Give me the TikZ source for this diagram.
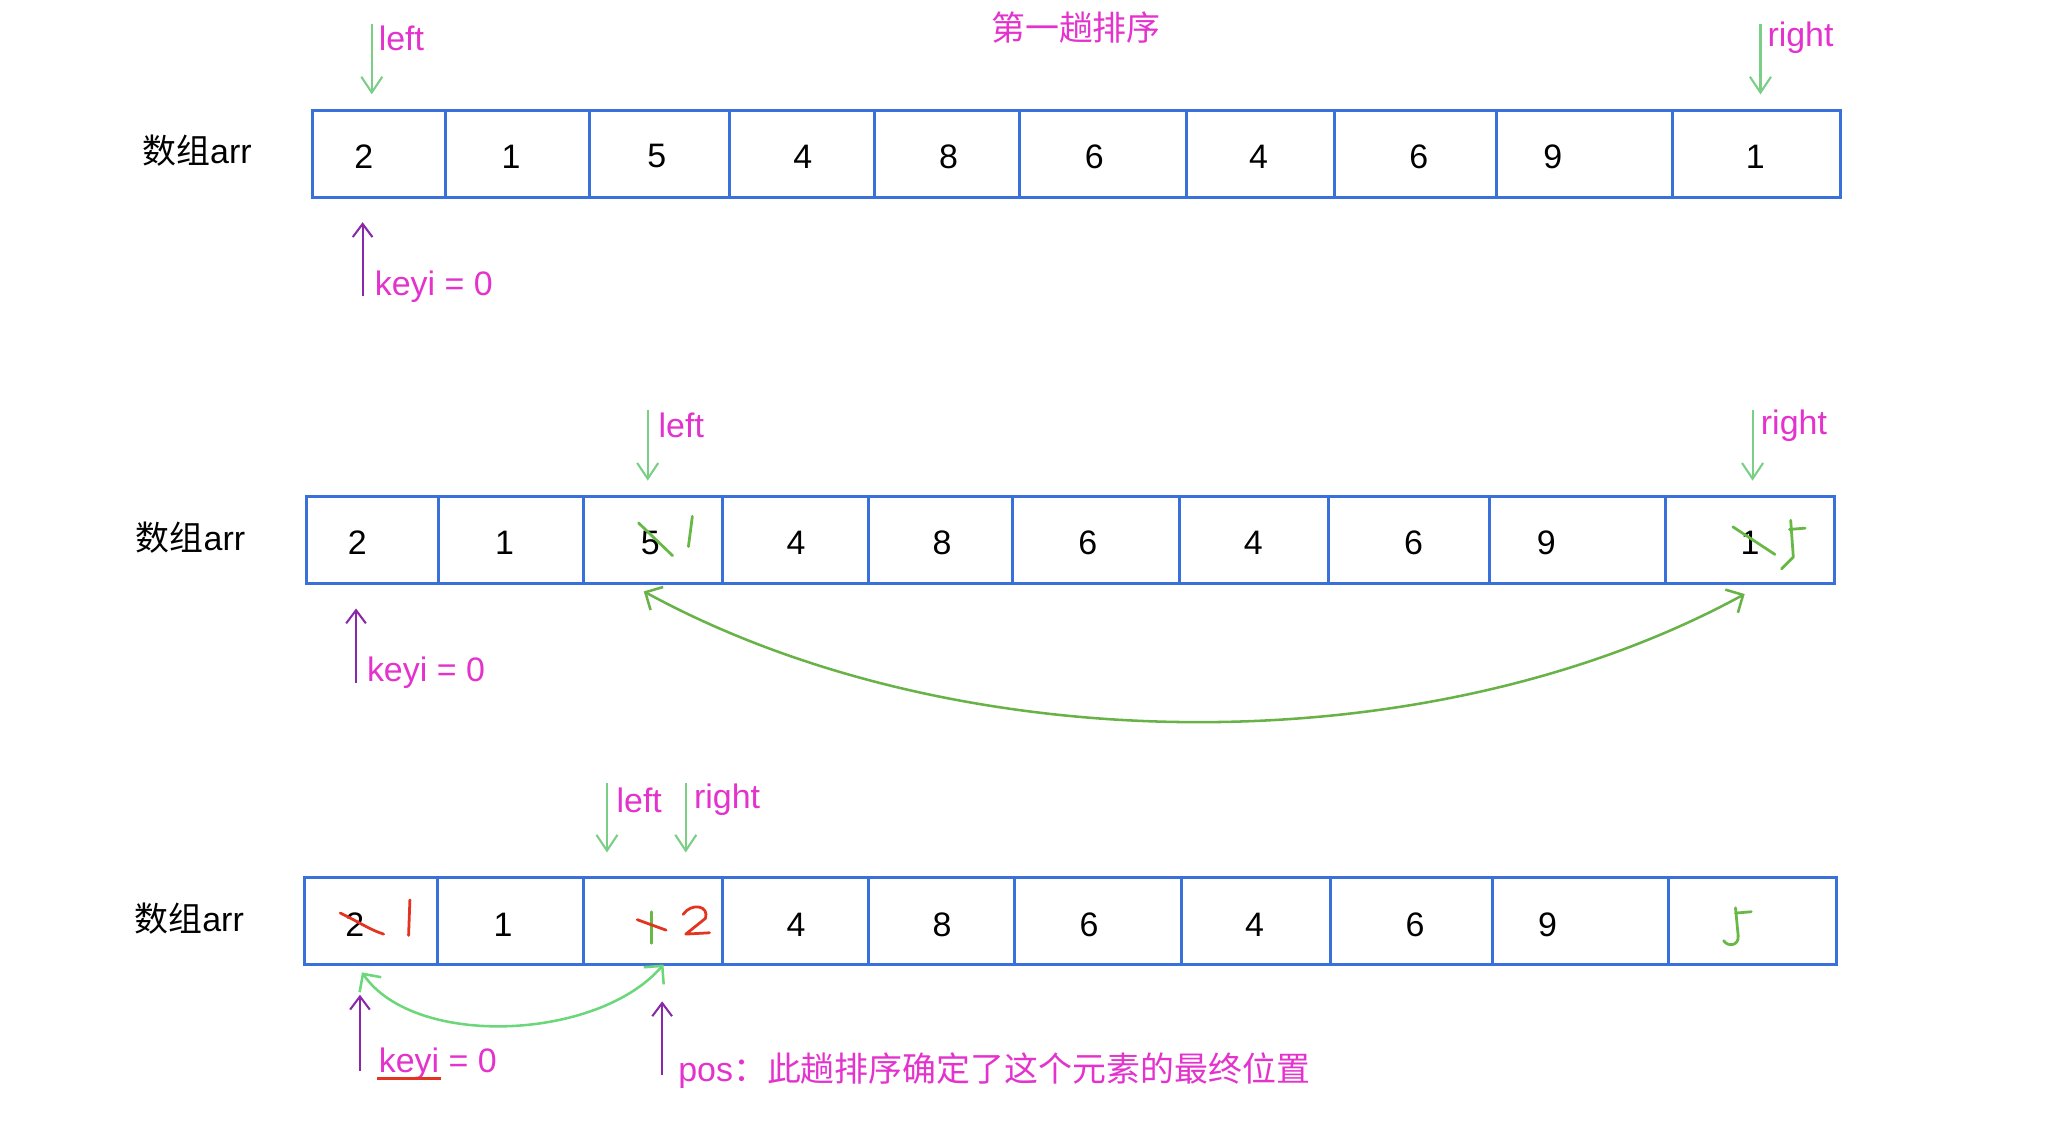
\documentclass[tikz,border=0pt]{standalone}
\usepackage{fontspec}
\setmainfont{Liberation Sans}
\newfontfamily\cjk{Noto Sans CJK SC}
\usepackage{tikz}
\usetikzlibrary{arrows.meta, positioning}
\definecolor{cellblue}{RGB}{58,112,218}
\definecolor{mag}{RGB}{228,50,205}
\definecolor{ptrgreen}{RGB}{122,206,134}
\definecolor{arcgreen}{RGB}{104,178,72}
\definecolor{arcgreenlt}{RGB}{108,214,122}
\definecolor{keypurple}{RGB}{138,40,170}
\definecolor{inkred}{RGB}{226,52,30}
\definecolor{inkgreen}{RGB}{104,184,70}

\begin{document}
\begin{tikzpicture}[x=0.2mm, y=-0.2mm,
        font=\fontsize{14.7}{17}\selectfont,
        cell/.style={draw=cellblue, line width=1.3pt, minimum height=13.2mm, inner sep=0pt},
        num/.style={inner sep=0pt},
        lbl/.style={text=mag, inner sep=0pt, anchor=west},
        arrname/.style={inner sep=0pt, anchor=west},
        gptr/.style={draw=ptrgreen, line width=0.9pt, -{Straight Barb[length=2.4mm, width=3.2mm]}, shorten >=2.2mm},
        kptr/.style={draw=keypurple, line width=0.9pt, -{Straight Barb[length=2mm, width=3mm]}, shorten >=3.6mm},
        swaparc/.style={line width=1.1pt, {Straight Barb[length=2mm, width=4mm]}-{Straight Barb[length=2mm, width=4mm]}},
        ink/.style={line width=1.2pt, line cap=round, line join=round}
    ]
        \useasboundingbox (0,0) rectangle (1568,854);

        \node[lbl, anchor=center] (title) at (819,21) {\cjk 第一趟排序};

        % row 1
        \node[arrname] (arr1) at (108,115) {{\cjk 数组}arr};
        \foreach \l/\r/\t/\v [count=\i] in {238/339/277/2, 339/449/389/1, 449/555/500/5, 555/666/611/4, 666/776/722/8, 776/903/833/6, 903/1016/958/4, 1016/1139/1080/6, 1139/1273/1182/9, 1273/1401/1336/1}
        {
            \node[cell, minimum width={(\r-\l)*0.2mm}] (a\i) at ({(\l+\r)/2},117) {};
            \node[num] (a\i n) at (\t,119) {\v};
        }
        \coordinate (lp1) at (283,18);
        \coordinate (rp1) at (1340,18);
        \coordinate (kp1) at (276,225);
        \draw[gptr] (lp1) -- (lp1 |- a1.north);
        \draw[gptr] (rp1) -- (rp1 |- a10.north);
        \draw[kptr] (kp1) -- (kp1 |- a1.south);
        \node[lbl] (lft1) at (288,29) {left};
        \node[lbl] (rgt1) at (1345,29) {right};
        \node[lbl] (key1) at (285,218) {keyi = 0};

        % row 2
        \node[arrname] (arr2) at (103,409) {{\cjk 数组}arr};
        \foreach \l/\r/\t/\v [count=\i] in {233/334/272/2, 334/444/384/1, 444/550/495/5, 550/661/606/4, 661/771/717/8, 771/898/828/6, 898/1011/954/4, 1011/1134/1076/6, 1134/1268/1177/9, 1268/1396/1332/1}
        {
            \node[cell, minimum width={(\r-\l)*0.2mm}] (b\i) at ({(\l+\r)/2},411) {};
            \node[num] (b\i n) at (\t,413) {\v};
        }
        \coordinate (lp2) at (493,312);
        \coordinate (rp2) at (1334,312);
        \coordinate (kp2) at (271,520);
        \draw[gptr] (lp2) -- (lp2 |- b3.north);
        \draw[gptr] (rp2) -- (rp2 |- b10.north);
        \draw[kptr] (kp2) -- (kp2 |- b1.south);
        \node[lbl] (lft2) at (501,324) {left};
        \node[lbl] (rgt2) at (1340,324) {right};
        \node[lbl] (key2) at (279,512) {keyi = 0};
        \draw[swaparc, arcgreen] ([shift={(-7,5)}]b3.south) .. controls +(240,131) and +(-240,131) .. ([shift={(-4,7)}]b10.south);
        \draw[ink, inkgreen] (486,398) -- (512,423);
        \draw[ink, inkgreen] (527,393) -- (524,416);
        \draw[ink, inkgreen] (1319,401) -- (1351,422);
        \draw[ink, inkgreen] (1362,403) -- (1374,402);
        \draw[ink, inkgreen] (1363,396) -- (1365,424) -- (1356,433);

        % row 3
        \node[arrname] (arr3) at (102,699) {{\cjk 数组}arr};
        \foreach \l/\r/\t/\v [count=\i] in {232/333/270/2, 333/444/383/1, 444/550/497/{}, 550/661/606/4, 661/772/717/8, 772/899/829/6, 899/1013/955/4, 1013/1136/1077/6, 1136/1270/1178/9, 1270/1398/1334/{}}
        {
            \node[cell, minimum width={(\r-\l)*0.2mm}] (c\i) at ({(\l+\r)/2},701) {};
            \node[num] (c\i n) at (\t,704) {\v};
        }
        \coordinate (lp3) at (462,596);
        \coordinate (rp3) at (522,596);
        \coordinate (kp3) at (274,815);
        \coordinate (pp3) at (504,818);
        \draw[gptr, shorten >=3.6mm] (lp3) -- (lp3 |- c3.north);
        \draw[gptr, shorten >=3.6mm] (rp3) -- (rp3 |- c3.north);
        \draw[kptr, shorten >=4.4mm] (kp3) -- (kp3 |- c1.south);
        \draw[kptr, shorten >=5.4mm] (pp3) -- (pp3 |- c3.south);
        \node[lbl] (lft3) at (469,609) {left};
        \node[lbl] (rgt3) at (528,609) {right};
        \node[lbl] (key3) at (288,810) {keyi = 0};
        \node[lbl] (pos3) at (516,815) {pos{\cjk ：此趟排序确定了这个元素的最终位置}};
        \draw[inkred, line width=1.3pt] (287,821) -- (336,821);
        \draw[swaparc, arcgreenlt] ([shift={(-7,5)}]c1.south) .. controls +(40,58) and +(-50,58) .. ([shift={(8,-1)}]c3.south);
        \draw[ink, inkred] (259,695) .. controls (270,700) and (282,708) .. (292,711);
        \draw[ink, inkred] (312,685) -- (311,712);
        \draw[ink, inkgreen] (496,694) -- (496,718);
        \draw[ink, inkred] (485,700) -- (507,708);
        \draw[ink, inkred] (520,696) .. controls (526,687) and (540,689) .. (537,699) -- (522,711) -- (540,710);
        \draw[ink, inkgreen] (1321,695) -- (1333,694);
        \draw[ink, inkgreen] (1321,691) -- (1323,712) .. controls (1324,720) and (1315,721) .. (1312,716);
    \end{tikzpicture}
\end{document}
